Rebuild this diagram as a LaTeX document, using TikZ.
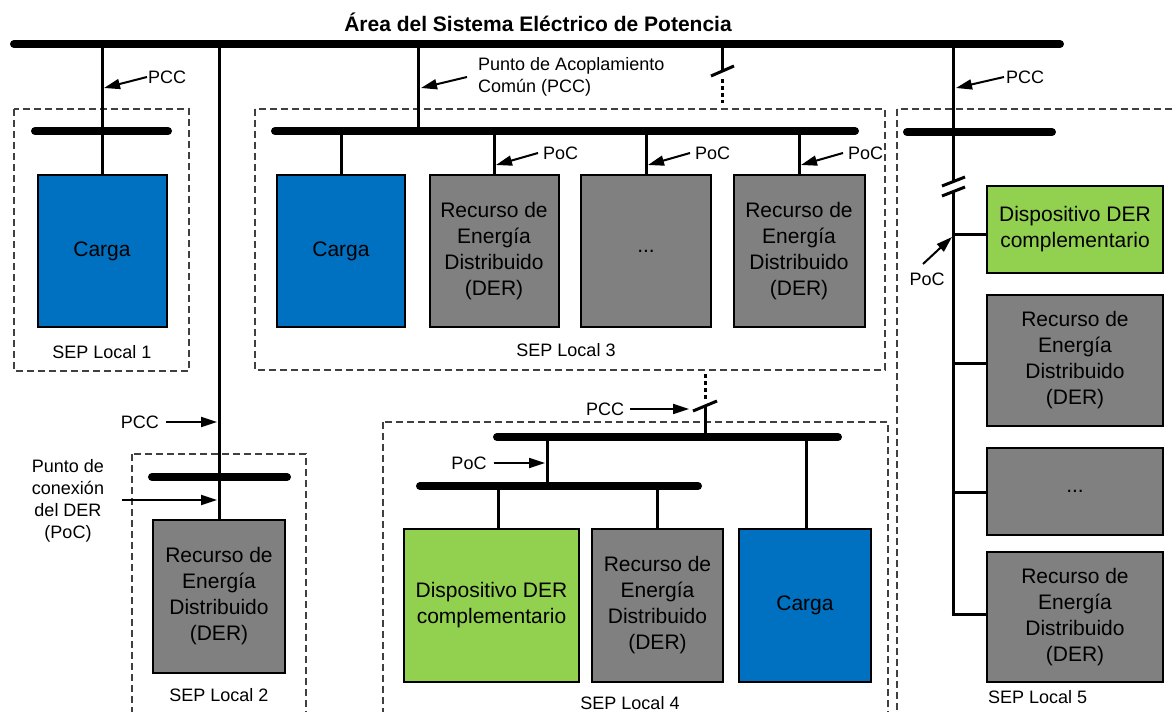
\documentclass[tikz,border=0pt]{standalone}
\usepackage{fontspec}
\setmainfont{Liberation Sans}
\usetikzlibrary{arrows.meta}
\definecolor{loadblue}{HTML}{0070C0}
\definecolor{dergray}{HTML}{808080}
\definecolor{auxgreen}{HTML}{92D050}
\definecolor{framegray}{HTML}{404040}

\begin{document}
\begin{tikzpicture}[x=1pt,y=-1pt,
  bus/.style={line width=8pt,line cap=round},
  wire/.style={line width=3pt},
  frame/.style={draw=framegray,line width=1.2pt,dash pattern=on 7pt off 4pt},
  unit/.style={draw=black,line width=2pt,align=center,inner sep=0pt,
    font=\fontsize{21}{26}\selectfont,text=black},
  load/.style={unit,fill=loadblue},
  der/.style={unit,fill=dergray},
  aux/.style={unit,fill=auxgreen},
  lbl/.style={font=\fontsize{18}{22}\selectfont,inner sep=0pt},
  ptr/.style={line width=2pt,-{Triangle[length=16pt,width=10pt]}},
  cut/.style={line width=3pt},
  dots/.style={line width=3pt,dash pattern=on 3.5pt off 3.5pt},
]
\useasboundingbox (0,0) rectangle (1176,712);
\begin{scope}
\clip (0,0) rectangle (1176,712);

% ---------- local system frames ----------
\draw[frame] (14,109) rectangle (189,371);
\draw[frame] (132,454) rectangle (306,730);
\draw[frame] (255,109) rectangle (885,370);
\draw[frame] (383,422) rectangle (888,730);
\draw[frame] (897,109) rectangle (1200,730);

% ---------- title and main bus ----------
\node[font=\fontsize{21}{25}\bfseries\selectfont,inner sep=0pt] (title) at (538,22)
  {Área del Sistema Eléctrico de Potencia};
\coordinate (busL) at (14,44);
\coordinate (busR) at (1060,44);
\draw[bus] (busL) -- (busR);

% ---------- SEP Local 1 ----------
\node[load,minimum width=129pt,minimum height=152pt] (c1) at (102,251) {Carga};
\coordinate (f1) at (102,44);
\coordinate (b1l) at (35,131);
\coordinate (b1r) at (168,131);
\draw[bus] (b1l) -- (b1r);
\draw[wire] (f1) -- (c1.north);
\node[lbl,anchor=west] (pcc1) at (148,77) {PCC};
\coordinate (pcc1t) at (104,88);
\draw[ptr] ([xshift=-1pt]pcc1.west) -- (pcc1t);
\node[lbl] (sep1) at (102,352) {SEP Local 1};

% ---------- SEP Local 2 ----------
\node[der,minimum width=132pt,minimum height=153pt] (d2) at (219,596.5)
  {Recurso de\\Energía\\Distribuido\\(DER)};
\coordinate (f2) at (219,44);
\coordinate (b2l) at (152,477);
\coordinate (b2r) at (287,477);
\draw[bus] (b2l) -- (b2r);
\draw[wire] (f2) -- (d2.north);
\node[lbl,anchor=east] (pcc2) at (159,422) {PCC};
\coordinate (pcc2t) at (217,422);
\draw[ptr] ([xshift=7pt]pcc2.east) -- (pcc2t);
\node[lbl,align=center] (poc2) at (68,501) {Punto de\\conexión\\del DER\\(PoC)};
\coordinate (poc2s) at (122,500);
\coordinate (poc2t) at (217,500);
\draw[ptr] (poc2s) -- (poc2t);
\node[lbl] (sep2) at (219,695) {SEP Local 2};

% ---------- SEP Local 3 ----------
\node[load,minimum width=128pt,minimum height=152pt] (c3) at (341,251) {Carga};
\node[der,minimum width=129pt,minimum height=152pt] (d3a) at (494,251)
  {Recurso de\\Energía\\Distribuido\\(DER)};
\node[der,minimum width=130pt,minimum height=152pt] (e3) at (646,251) {...};
\node[der,minimum width=131pt,minimum height=152pt] (d3b) at (799,251)
  {Recurso de\\Energía\\Distribuido\\(DER)};
\coordinate (f3) at (418,44);
\coordinate (b3l) at (275,131);
\coordinate (b3r) at (855,131);
\coordinate (b3f) at (418,131);
\draw[bus] (b3l) -- (b3r);
\draw[wire] (f3) -- (b3f);
\foreach \n in {c3,d3a,e3,d3b}
  \draw[wire] (\n.north) -- (\n.north |- b3l);
\node[lbl,anchor=west,align=left] (pcc3) at (478,76.5)
  {Punto de Acoplamiento\\Común (PCC)};
\coordinate (pcc3s) at (467,77);
\coordinate (pcc3t) at (421,88);
\draw[ptr] (pcc3s) -- (pcc3t);
\foreach \n/\x in {pa/494,pb/646,pc/799}{
  \node[lbl,anchor=west] (\n) at (\x+49,153) {PoC};
  \coordinate (\n t) at (\x+2,165);
  \draw[ptr] ([xshift=-5pt]\n.west) -- (\n t);
}
\node[lbl] (sep3) at (566,350) {SEP Local 3};

% open tie from the main bus
\coordinate (k3a) at (722,44);
\coordinate (k3b) at (722,72);
\coordinate (k3c) at (711,76);
\coordinate (k3d) at (734,66);
\coordinate (k3e) at (722,79);
\coordinate (k3f) at (722,103);
\draw[wire] (k3a) -- (k3b);
\draw[cut] (k3c) -- (k3d);
\draw[dots] (k3e) -- (k3f);

% ---------- SEP Local 4 ----------
\node[aux,minimum width=175pt,minimum height=153pt] (g4) at (491.5,605.5)
  {Dispositivo DER\\complementario};
\node[der,minimum width=131pt,minimum height=153pt] (d4) at (657.5,605.5)
  {Recurso de\\Energía\\Distribuido\\(DER)};
\node[load,minimum width=132pt,minimum height=153pt] (c4) at (805,605.5) {Carga};
\coordinate (u4l) at (497,437);
\coordinate (u4r) at (838,437);
\coordinate (l4l) at (420,486);
\coordinate (l4r) at (698,486);
\coordinate (u4j) at (547,437);
\coordinate (l4j) at (547,486);
\coordinate (j4a) at (498,486);
\coordinate (j4b) at (657,486);
\coordinate (j4c) at (806,437);
\draw[bus] (u4l) -- (u4r);
\draw[bus] (l4l) -- (l4r);
\draw[wire] (u4j) -- (l4j);
\draw[wire] (j4a) -- (j4a |- g4.north);
\draw[wire] (j4b) -- (j4b |- d4.north);
\draw[wire] (j4c) -- (j4c |- c4.north);
% tie towards SEP Local 3
\coordinate (k4a) at (705,374);
\coordinate (k4b) at (705,399);
\coordinate (k4c) at (693,411);
\coordinate (k4d) at (717,401);
\coordinate (k4e) at (705,406);
\coordinate (k4f) at (705,437);
\draw[dots] (k4a) -- (k4b);
\draw[cut] (k4c) -- (k4d);
\draw[wire] (k4e) -- (k4f);
\node[lbl] (pcc4) at (605,409) {PCC};
\coordinate (pcc4t) at (689,409);
\draw[ptr] ([xshift=6pt]pcc4.east) -- (pcc4t);
\node[lbl] (poc4) at (469,463) {PoC};
\coordinate (poc4t) at (545,463);
\draw[ptr] ([xshift=7pt]poc4.east) -- (poc4t);
\node[lbl] (sep4) at (630,703) {SEP Local 4};

% ---------- SEP Local 5 ----------
\node[aux,minimum width=176pt,minimum height=87pt] (g5) at (1075,229.5)
  {Dispositivo DER\\complementario};
\node[der,minimum width=176pt,minimum height=131pt] (d5a) at (1075,360.5)
  {Recurso de\\Energía\\Distribuido\\(DER)};
\node[der,minimum width=176pt,minimum height=87pt] (e5) at (1075,491.5) {...};
\node[der,minimum width=176pt,minimum height=130pt] (d5b) at (1075,617)
  {Recurso de\\Energía\\Distribuido\\(DER)};
\coordinate (f5) at (953,44);
\coordinate (b5l) at (907,132);
\coordinate (b5r) at (1052,132);
\draw[bus] (b5l) -- (b5r);
\coordinate (f5a) at (953,181);
\coordinate (f5b) at (953,192);
\coordinate (j5a) at (953,234);
\coordinate (j5b) at (953,363);
\coordinate (j5c) at (953,492);
\coordinate (j5d) at (953,614);
\draw[wire] (f5) -- (f5a);
\draw[wire] (f5b) -- ([yshift=1.5pt]j5d);
\draw[cut] (942,186) -- (965,177);
\draw[cut] (942,196) -- (965,187);
\draw[wire] (j5a) -- (j5a -| g5.west);
\draw[wire] (j5b) -- (j5b -| d5a.west);
\draw[wire] (j5c) -- (j5c -| e5.west);
\draw[wire] ([xshift=-1.5pt]j5d) -- (j5d -| d5b.west);
\node[lbl,anchor=west] (pcc5) at (1006,77) {PCC};
\coordinate (pcc5t) at (956,88);
\draw[ptr] ([xshift=-2pt]pcc5.west) -- (pcc5t);
\node[lbl] (poc5) at (927,279) {PoC};
\coordinate (poc5s) at (923,264);
\coordinate (poc5t) at (952,237);
\draw[ptr] (poc5s) -- (poc5t);
\node[lbl,anchor=west] (sep5) at (988,697) {SEP Local 5};

\end{scope}
\end{tikzpicture}
\end{document}
